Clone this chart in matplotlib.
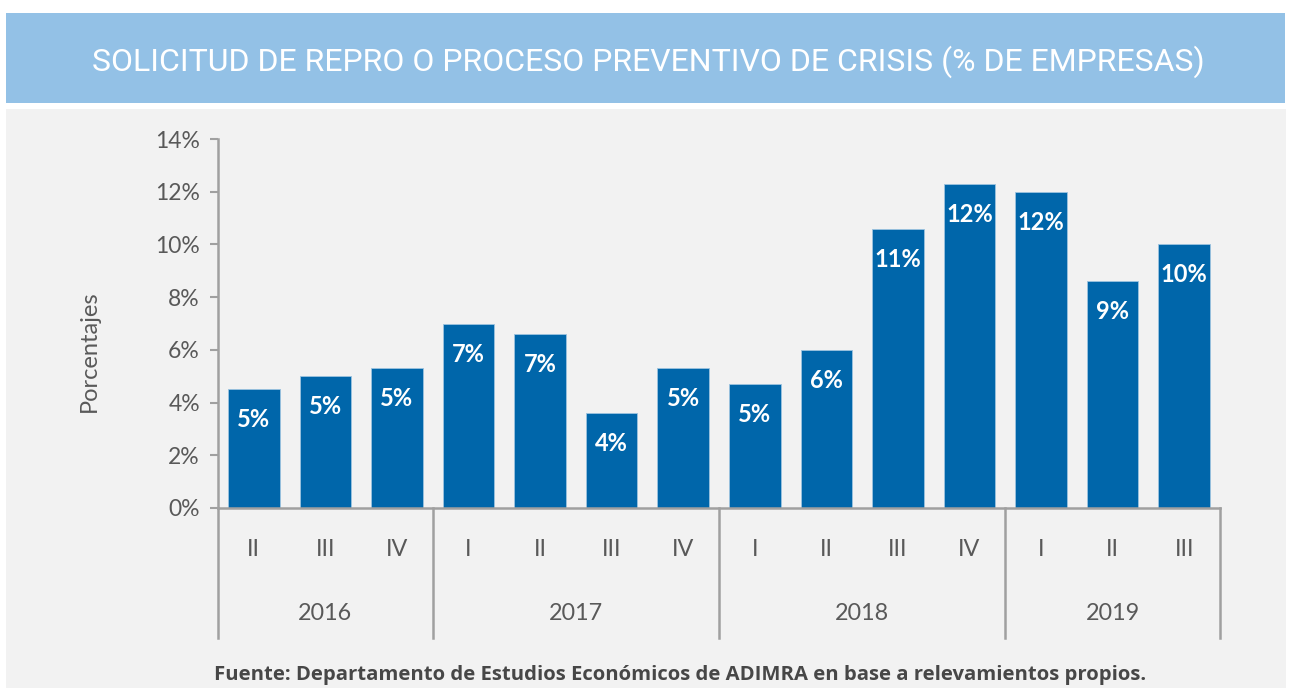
import math
import matplotlib.pyplot as plt
from matplotlib.patches import Rectangle
import matplotlib.transforms as mtransforms

plt.rcParams['font.family'] = ['Lato', 'DejaVu Sans']

quarters = ["II", "III", "IV", "I", "II", "III", "IV", "I", "II", "III", "IV", "I", "II", "III"]
years = ["2016", "2017", "2018", "2019"]
year_sizes = [3, 4, 4, 3]
values = [4.5, 5.0, 5.3, 7.0, 6.6, 3.6, 5.3, 4.7, 6.0, 10.6, 12.3, 12.0, 8.6, 10.0]
yticks = [0, 2, 4, 6, 8, 10, 12, 14]

W, H = 1292, 688
fig = plt.figure(figsize=(W / 100, H / 100), dpi=100, facecolor='white')

# background panels
fig.patches.append(Rectangle((6 / W, 0), 1280 / W, (H - 109) / H, transform=fig.transFigure,
                             facecolor='#f2f2f2', edgecolor='none', zorder=-10))
fig.patches.append(Rectangle((6 / W, (H - 103) / H), 1279 / W, 90 / H, transform=fig.transFigure,
                             facecolor='#93c1e6', edgecolor='none', zorder=-10))
fig.text(648 / W, (H - 62) / H, "SOLICITUD DE REPRO O PROCESO PREVENTIVO DE CRISIS (% DE EMPRESAS)",
         color='white', fontsize=23, ha='center', va='center', family=['Roboto', 'DejaVu Sans'])

ax = fig.add_axes([218 / W, (H - 508) / H, (1220 - 218) / W, (508 - 139) / H])
ax.set_facecolor('none')

x = list(range(len(values)))
ax.bar(x, values, width=0.72, color='#0066aa', edgecolor='#9cc3e0', linewidth=0.6, zorder=2)
for xi, v in zip(x, values):
    ax.annotate(f"{math.floor(v + 0.5)}%", (xi, v), xytext=(0, -22), textcoords='offset points',
                ha='center', va='center', color='white', fontsize=17, fontweight='bold')

ax.set_xlim(-0.5, len(values) - 0.5)
ax.set_ylim(0, 14)
ax.set_yticks(yticks)
ax.set_yticklabels([f"{t}%" for t in yticks])
ax.tick_params(axis='y', length=6, width=1.5, color='#a0a0a0', labelsize=16.5, labelcolor='#595959', pad=7)
ax.set_xticks([])
for s in ['top', 'right']:
    ax.spines[s].set_visible(False)
for s in ['left', 'bottom']:
    ax.spines[s].set_color('#a0a0a0')
    ax.spines[s].set_linewidth(1.8)

ax.set_ylabel("Porcentajes", fontsize=17, color='#595959')
ax.yaxis.set_label_coords(-(218 - 100) / 1002, (508 - 351) / 369)

trans = mtransforms.blended_transform_factory(ax.transData, ax.transAxes)
low = -(638 - 508) / (508 - 139)
for xi, q in zip(x, quarters):
    ax.text(xi, -(550 - 508) / (508 - 139), q, transform=trans, ha='center', va='center',
            fontsize=16.8, color='#595959')
start = 0
edges = [-0.5]
for yr, n in zip(years, year_sizes):
    ax.text(start + (n - 1) / 2, -(614 - 508) / (508 - 139), yr, transform=trans, ha='center',
            va='center', fontsize=16.8, color='#595959')
    start += n
    edges.append(start - 0.5)
for e in edges:
    ax.plot([e, e], [0, low], transform=trans, color='#a0a0a0', lw=1.8, clip_on=False)

fig.text(680 / W, (H - 675) / H,
         "Fuente: Departamento de Estudios Económicos de ADIMRA en base a relevamientos propios.",
         ha='center', va='center', fontsize=14.6, fontweight='bold', color='#474747',
         family=['Open Sans', 'DejaVu Sans'])

fig.savefig("out.png", dpi=100, facecolor='white')
